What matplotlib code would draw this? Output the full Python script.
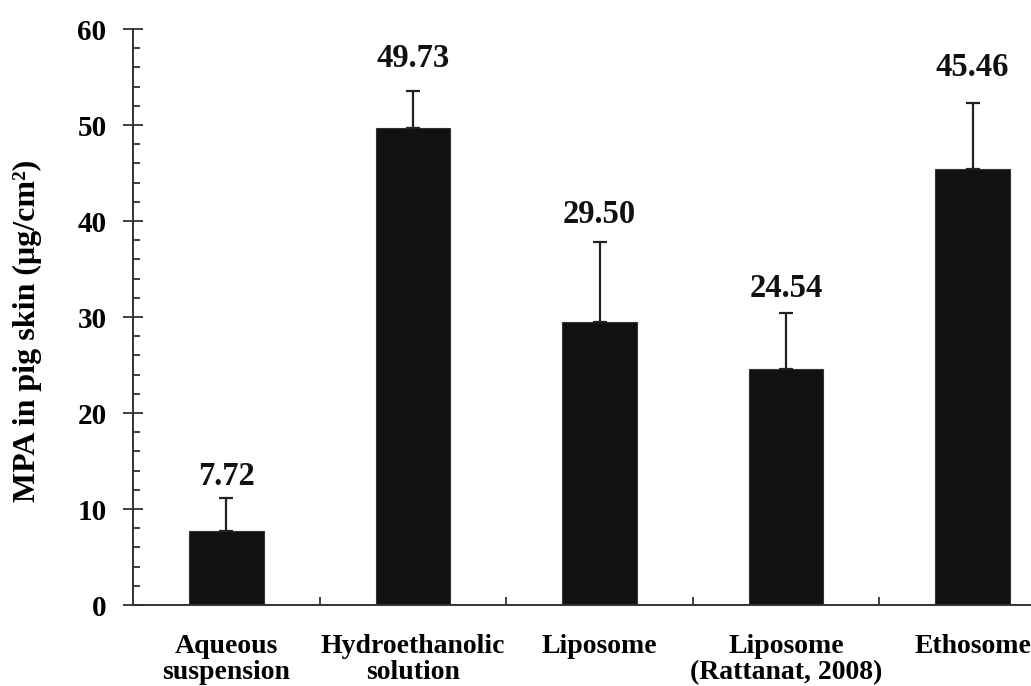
import matplotlib
matplotlib.use("Agg")
import matplotlib.pyplot as plt
from matplotlib.ticker import MultipleLocator, FixedLocator, NullFormatter

categories = ["Aqueous\nsuspension", "Hydroethanolic\nsolution", "Liposome",
              "Liposome\n(Rattanat, 2008)", "Ethosome"]
values = [7.72, 49.73, 29.50, 24.54, 45.46]
errors = [3.46, 3.84, 8.28, 5.84, 6.86]
value_labels = ["7.72", "49.73", "29.50", "24.54", "45.46"]
# gap between error cap and value label, in points
label_gaps = [4, 12, 9, 7, 14]

plt.rcParams["font.family"] = ["Liberation Serif", "DejaVu Serif"]
plt.rcParams["font.weight"] = "bold"

fig = plt.figure(figsize=(10.31, 6.86), dpi=100)
ax = fig.add_axes([133 / 1031, 81 / 686, 933 / 1031, 576 / 686])

x = list(range(len(values)))
ax.bar(x, values, width=0.40, color="#111111", edgecolor="#333333", linewidth=0.8, zorder=2)
ax.errorbar(x, values, yerr=[[0] * len(errors), errors], fmt="none",
            ecolor="#222222", elinewidth=1.6, capsize=5, capthick=1.6, zorder=3)

for xi, v, e, lab, gap in zip(x, values, errors, value_labels, label_gaps):
    ax.annotate(lab, xy=(xi, v + e), xytext=(0, gap), textcoords="offset points",
                ha="center", va="bottom", fontsize=23.5, fontweight="bold", color="#111111")

ax.set_xlim(-0.5, len(values) - 0.5)
ax.set_ylim(0, 60)

# y axis: major ticks crossing the spine, minor ticks inside
ax.yaxis.set_major_locator(MultipleLocator(10))
ax.yaxis.set_minor_locator(MultipleLocator(2))
ax.tick_params(axis="y", which="major", direction="inout", length=14, width=1.3,
               color="#333333", labelsize=21, pad=12)
ax.tick_params(axis="y", which="minor", direction="in", length=5, width=1.3, color="#333333")
for t in ax.get_yticklabels():
    t.set_fontweight("bold")

# x axis: ticks at category boundaries, labels at bar centres
ax.xaxis.set_major_locator(FixedLocator([i + 0.5 for i in x[:-1]]))
ax.xaxis.set_major_formatter(NullFormatter())
ax.xaxis.set_minor_locator(FixedLocator(x))
ax.set_xticklabels(categories, minor=True, fontsize=20, fontweight="bold", linespacing=1.05)
ax.tick_params(axis="x", which="major", direction="in", length=6, width=1.3, color="#333333")
ax.tick_params(axis="x", which="minor", length=0, pad=21)

for side in ["top", "right"]:
    ax.spines[side].set_visible(False)
for side in ["left", "bottom"]:
    ax.spines[side].set_color("#333333")
    ax.spines[side].set_linewidth(1.4)

fig.text(27 / 1031, 1 - 331 / 686, "MPA in pig skin (μg/cm²)", rotation=90,
         ha="center", va="center", fontsize=23, fontweight="bold")

fig.savefig("out.png", dpi=100)
